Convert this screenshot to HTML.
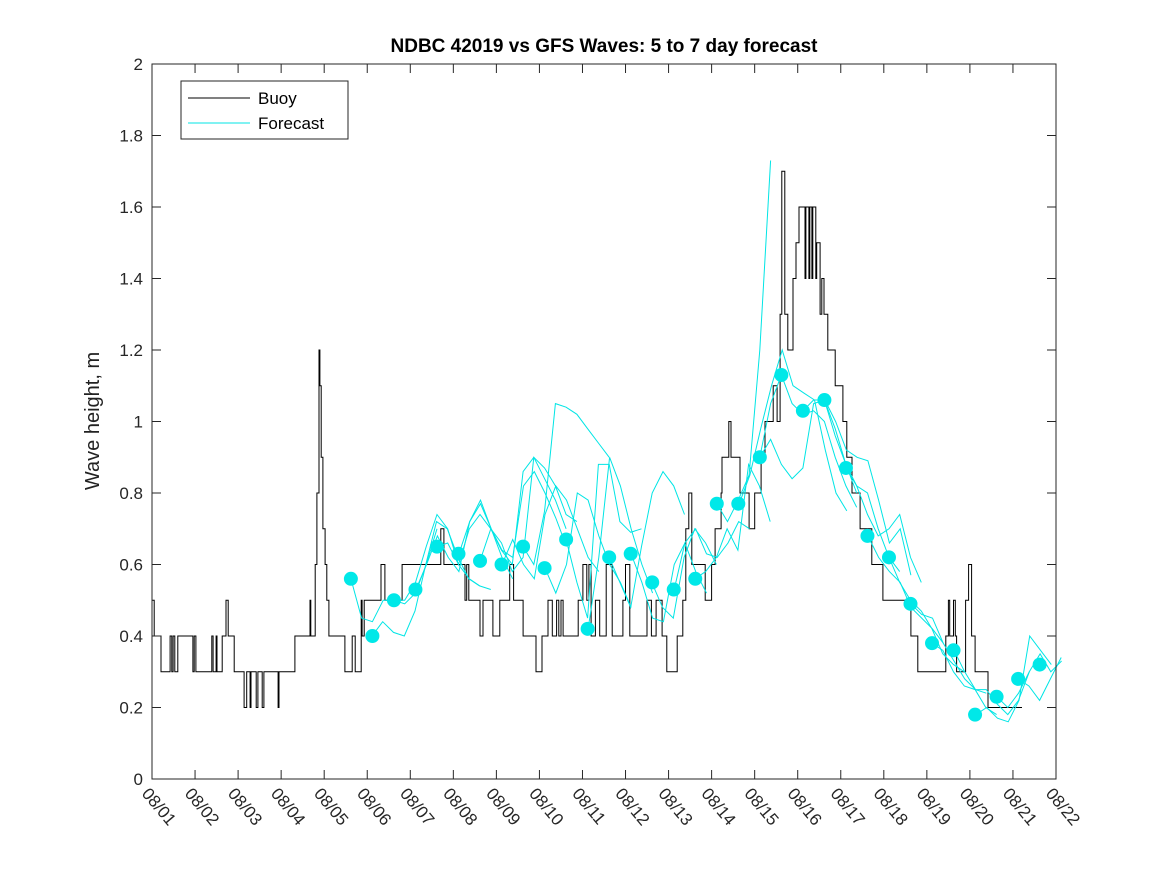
<!DOCTYPE html>
<html><head><meta charset="utf-8"><style>
body{margin:0;background:#fff}
svg{display:block;font-family:"Liberation Sans","DejaVu Sans",sans-serif}
</style></head><body>
<svg id="chart" width="1167" height="875" viewBox="0 0 1167 875">
<rect width="1167" height="875" fill="#fff"/>
<text x="604" y="52" text-anchor="middle" font-size="19" font-weight="bold" fill="#000">NDBC 42019 vs GFS Waves: 5 to 7 day forecast</text>
<text transform="translate(99,421) rotate(-90)" text-anchor="middle" font-size="20" fill="#222">Wave height, m</text>
<g id="series"></g>
<rect x="152" y="64" width="904" height="715" fill="none" stroke="#262626" stroke-width="1"/>
<g id="axes"></g>
<g>
<rect x="181" y="81" width="167" height="58" fill="#fff" stroke="#262626" stroke-width="1"/>
<line x1="188" y1="98" x2="250" y2="98" stroke="#000" stroke-width="1"/>
<text x="258" y="104" font-size="17" fill="#000">Buoy</text>
<line x1="188" y1="123" x2="250" y2="123" stroke="#00e5e5" stroke-width="1"/>
<text x="258" y="129" font-size="17" fill="#000">Forecast</text>
</g>
</svg>
<script>
const xTickLabels=["08/01","08/02","08/03","08/04","08/05","08/06","08/07","08/08","08/09","08/10","08/11","08/12","08/13","08/14","08/15","08/16","08/17","08/18","08/19","08/20","08/21","08/22"];
const yTicks=[0,0.2,0.4,0.6,0.8,1,1.2,1.4,1.6,1.8,2];
// buoy step series: change-point days and values
const buoyDays=[0,0.05,0.21,0.42,0.46,0.49,0.53,0.6,0.95,0.98,1.02,1.39,1.42,1.49,1.51,1.63,1.72,1.77,1.91,2.14,2.2,2.28,2.3,2.42,2.46,2.56,2.6,2.93,2.95,3.32,3.67,3.69,3.79,3.83,3.88,3.9,3.93,3.97,4.02,4.06,4.11,4.48,4.65,4.72,4.86,4.88,4.93,5.32,5.41,5.55,5.81,6.04,6.71,6.78,6.86,7.27,7.31,7.36,7.62,7.69,7.92,8.08,8.31,8.4,8.62,8.92,9.06,9.2,9.3,9.4,9.45,9.5,9.55,9.9,10.01,10.1,10.15,10.2,10.3,10.4,10.55,10.69,10.94,11.0,11.1,11.5,11.6,11.71,11.85,11.96,12.2,12.33,12.4,12.47,12.54,12.85,13.0,13.08,13.22,13.24,13.4,13.45,13.66,13.87,14.0,14.15,14.24,14.43,14.52,14.59,14.63,14.7,14.77,14.89,14.96,15.03,15.17,15.19,15.26,15.28,15.33,15.35,15.42,15.44,15.52,15.56,15.61,15.7,15.87,16.05,16.14,16.26,16.45,16.72,16.98,17.63,17.79,18.44,18.5,18.53,18.62,18.66,18.69,18.9,18.97,19.04,19.12,19.42];
const buoyVals=[0.5,0.4,0.3,0.4,0.3,0.4,0.3,0.4,0.3,0.4,0.3,0.4,0.3,0.4,0.3,0.4,0.5,0.4,0.3,0.2,0.3,0.2,0.3,0.2,0.3,0.2,0.3,0.2,0.3,0.4,0.5,0.4,0.6,0.8,1.2,1.1,0.9,0.7,0.6,0.5,0.4,0.3,0.4,0.3,0.5,0.4,0.5,0.6,0.5,0.5,0.6,0.6,0.7,0.6,0.6,0.5,0.6,0.5,0.4,0.5,0.4,0.5,0.6,0.5,0.4,0.3,0.4,0.5,0.4,0.5,0.4,0.5,0.4,0.5,0.6,0.5,0.6,0.4,0.5,0.4,0.6,0.4,0.5,0.6,0.4,0.5,0.4,0.5,0.4,0.3,0.4,0.5,0.7,0.8,0.6,0.5,0.6,0.7,0.8,0.9,1.0,0.9,0.8,0.7,0.8,0.9,1.0,1.1,1.0,1.3,1.7,1.3,1.2,1.4,1.5,1.6,1.4,1.6,1.4,1.6,1.4,1.6,1.4,1.5,1.3,1.4,1.3,1.2,1.1,1.0,0.9,0.8,0.7,0.6,0.5,0.4,0.3,0.4,0.5,0.4,0.5,0.4,0.3,0.5,0.6,0.4,0.3,0.2];
const buoyEnd=20.21;
// forecast markers
const dotStart=4.62;
const dotVals=[0.56,0.40,0.50,0.53,0.65,0.63,0.61,0.60,0.65,0.59,0.67,0.42,0.62,0.63,0.55,0.53,0.56,0.77,0.77,0.90,1.13,1.03,1.06,0.87,0.68,0.62,0.49,0.38,0.36,0.18,0.23,0.28,0.32];
// forecast runs: start day and values every 0.25 day
const fcStarts=[4.62,5.11,5.62,6.13,6.62,7.13,7.62,8.13,8.62,9.13,9.62,10.13,10.62,11.13,11.61,12.13,12.61,13.12,13.64,14.12,14.12,15.12,15.63,16.12,16.63,17.12,17.63,18.12,18.63,19.14,19.63,20.12];
const fcVals=[
[0.56,0.45,0.44,0.50,0.50,0.49,0.52,0.60,0.70],
[0.40,0.44,0.41,0.40,0.47,0.60,0.72,0.70,0.62,0.56,0.54],
[0.50,0.50,0.55,0.65,0.74,0.70,0.60,0.56,0.54,0.53],
[0.53,0.60,0.68,0.62,0.58,0.72,0.77,0.70,0.62,0.56],
[0.65,0.66,0.60,0.70,0.74,0.70,0.64,0.60,0.86,0.90,0.84,0.78,0.70],
[0.63,0.72,0.78,0.70,0.64,0.62,0.82,0.86,0.80,0.73,0.65],
[0.61,0.70,0.66,0.58,0.62,0.90,0.87,0.82,0.74,0.72],
[0.60,0.67,0.60,0.56,0.74,0.82,0.78,0.70,0.62,0.58],
[0.65,0.60,0.75,1.05,1.04,1.02,0.98,0.94,0.90],
[0.59,0.52,0.60,0.80,0.78,0.68,0.60,0.55,0.48],
[0.67,0.55,0.45,0.88,0.88,0.72,0.69,0.70],
[0.42,0.62,0.90,0.82,0.70,0.60,0.52],
[0.62,0.55,0.48,0.65,0.80,0.86,0.82,0.74],
[0.63,0.55,0.45,0.44,0.60,0.66,0.58,0.52],
[0.55,0.48,0.45,0.62,0.70,0.66,0.60],
[0.53,0.66,0.70,0.63,0.62,0.66,0.72,0.70],
[0.56,0.58,0.62,0.70,0.64,0.88,0.82,0.72],
[0.77,0.72,0.78,0.85,1.20,1.73],
[0.77,0.85,0.98,1.10,1.20,1.10,1.08,1.06,0.92,0.80,0.75],
[0.90,1.05,1.13,1.05,1.02,1.03,1.00,0.90,0.82,0.76],
[0.90,0.95,0.88,0.84,0.87,1.05,1.06,0.98,0.88,0.80],
[1.03,1.06,1.06,0.96,0.88,0.82,0.80,0.70,0.62,0.58],
[1.06,1.00,0.92,0.90,0.89,0.78,0.66,0.70,0.57],
[0.87,0.82,0.74,0.68,0.70,0.74,0.62,0.55],
[0.68,0.62,0.58,0.55,0.48,0.45,0.42,0.38],
[0.62,0.55,0.50,0.47,0.42,0.35,0.32,0.30],
[0.49,0.46,0.45,0.38,0.33,0.28,0.25,0.24],
[0.38,0.36,0.30,0.26,0.25,0.20,0.18],
[0.36,0.30,0.25,0.25,0.21,0.18,0.22,0.30],
[0.18,0.20,0.17,0.16,0.22,0.40,0.36,0.32],
[0.23,0.20,0.24,0.30,0.35,0.30,0.33],
[0.28,0.26,0.22,0.28,0.34]];

const NS="http://www.w3.org/2000/svg";
const X0=152,X1=1056,Y0=779,Y1=64,DAYS=21,YMAX=2;
function xs(d){return X0+(X1-X0)*d/DAYS;}
function ys(v){return Y0-(Y0-Y1)*v/YMAX;}
function mk(tag,attrs,parent){const e=document.createElementNS(NS,tag);for(const k in attrs)e.setAttribute(k,attrs[k]);parent.appendChild(e);return e;}
const axes=document.getElementById('axes'),series=document.getElementById('series');
yTicks.forEach(v=>{
  const y=ys(v);
  let t=mk('line',{x1:X0,y1:y,x2:X0+9,y2:y,stroke:'#262626'},axes);
  
  
  t=mk('line',{x1:X1-9,y1:y,x2:X1,y2:y,stroke:'#262626'},axes);
  
  
  const l=mk('text',{x:X0-9,y:y+6,'text-anchor':'end','font-size':17,fill:'#262626'},axes);
  l.textContent=String(v);
  
  
});
xTickLabels.forEach((s,i)=>{
  const x=xs(i);
  let t=mk('line',{x1:x,y1:Y0,x2:x,y2:Y0-9,stroke:'#262626'},axes);
  
  
  t=mk('line',{x1:x,y1:Y1,x2:x,y2:Y1+9,stroke:'#262626'},axes);
  
  
  const l=mk('text',{transform:`translate(${x-11},${Y0+15}) rotate(50)`,'font-size':17,fill:'#262626'},axes);
  l.textContent=s;
  
  
});
let pts=[];
for(let i=0;i<buoyDays.length;i++){
  const x=xs(buoyDays[i]);
  if(i>0)pts.push(x.toFixed(1)+','+ys(buoyVals[i-1]).toFixed(1));
  pts.push(x.toFixed(1)+','+ys(buoyVals[i]).toFixed(1));
}
pts.push(xs(buoyEnd).toFixed(1)+','+ys(buoyVals[buoyVals.length-1]).toFixed(1));
const bl=mk('polyline',{points:pts.join(' '),fill:'none',stroke:'#000','stroke-width':1},series);


fcVals.forEach((arr,j)=>{
  const p=arr.map((v,k)=>xs(fcStarts[j]+0.25*k).toFixed(1)+','+ys(v).toFixed(1)).join(' ');
  const fl=mk('polyline',{points:p,fill:'none',stroke:'#00e5e5','stroke-width':1},series);
  
  
});
dotVals.forEach((v,i)=>{
  const c=mk('circle',{cx:xs(dotStart+0.5*i),cy:ys(v),r:7,fill:'#00e8e8'},series);
  
  
});
</script>
</body></html>
